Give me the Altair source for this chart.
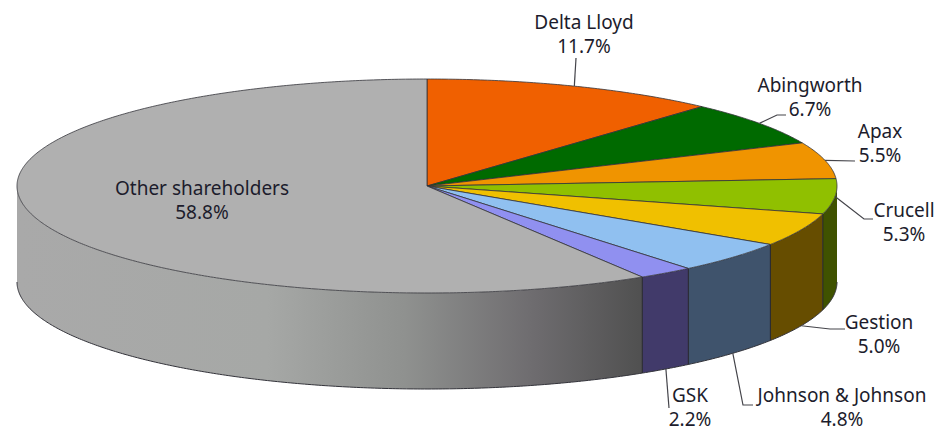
import math
import altair as alt
import pandas as pd

names = ["Delta Lloyd", "Abingworth", "Apax", "Crucell", "Gestion", "Johnson & Johnson", "GSK", "Other shareholders"]
shares = [11.7, 6.7, 5.5, 5.3, 5.0, 4.8, 2.2, 58.8]
top_colors = ["#f06000", "#006a00", "#f09400", "#90c000", "#f0c000", "#90c0f0", "#9090f0", "#b0b0b0"]
wall_colors = ["#7a3000", "#003500", "#784a00", "#3f5200", "#664d00", "#3f536c", "#413a6a", "#b0b0b0"]

# pie geometry, in the units of the two position scales
CX, CY, RX, RY, DEPTH = 427.0, 186.0, 410.0, 107.0, 96.0
# label anchors (x centre, first-line y) and leader elbows
label_xy = [(584, 23), (810, 86), (880, 132), (904, 211), (879, 323), (842, 396), (690, 396), (202, 189)]
elbows = [[(576, 58)], [(777, 115), (786, 115)], [(855, 161)], [(864, 219), (873, 219)],
          [(830, 329), (845, 329)], [(743, 405), (753, 405)], [(669, 408)], []]

X = alt.X("x:Q", axis=None, scale=alt.Scale(domain=[8, 936], range=[0, 928], nice=False, zero=False))
Y = alt.Y("y:Q", axis=None, scale=alt.Scale(domain=[431, 8], range=[423, 0], nice=False, zero=False))
Y2 = alt.Y2("y2:Q")


def rim(deg):
    a = math.radians(deg)
    return CX + RX * math.sin(a), CY - RY * math.cos(a)


def sweep(a0, a1, step=1.0):
    n = max(2, int(abs(a1 - a0) / step) + 1)
    return [a0 + (a1 - a0) * k / (n - 1) for k in range(n)]


bounds = [0.0]
for s in shares:
    bounds.append(bounds[-1] + s * 3.6)

layers = []
OUT = "#33333a"
# walls
for i in range(len(shares)):
    a0, a1 = max(bounds[i], 90.0), min(bounds[i + 1], 270.0)
    if a1 <= a0:
        continue
    rows = []
    for a in sweep(a0, a1, 0.5):
        px, py = rim(a)
        rows.append({"x": px, "y": py, "y2": py + DEPTH})
    df = pd.DataFrame(rows)
    if names[i].startswith("Other"):
        fill = alt.Gradient(gradient="linear", x1=0, x2=1, y1=0, y2=0, stops=[
            alt.GradientStop(offset=0.0, color="#a9a9a9"),
            alt.GradientStop(offset=0.40, color="#a6a8a6"),
            alt.GradientStop(offset=0.62, color="#8f918f"),
            alt.GradientStop(offset=0.82, color="#6f6d70"),
            alt.GradientStop(offset=1.0, color="#505050"),
        ])
    else:
        fill = wall_colors[i]
    layers.append(alt.Chart(df).mark_area(fill=fill, opacity=1, orient="vertical").encode(x=X, y=Y, y2=Y2))
    bottom = df.assign(y=df["y2"]).drop(columns="y2").reset_index().rename(columns={"index": "i"})
    layers.append(alt.Chart(bottom).mark_line(color=OUT, strokeWidth=1).encode(x=X, y=Y, order="i:Q"))
    if 90.0 < a0 < 270.0:
        px, py = rim(a0)
        layers.append(alt.Chart(pd.DataFrame([{"x": px, "y": py, "y2": py + DEPTH}]))
                      .mark_rule(color="#22222a", strokeWidth=1).encode(x=X, y=Y, y2=Y2))

# top slices
for i in range(len(shares)):
    pts = [(CX, CY)] + [rim(a) for a in sweep(bounds[i], bounds[i + 1], 0.5)] + [(CX, CY)]
    df = pd.DataFrame([{"i": k, "x": p[0], "y": p[1]} for k, p in enumerate(pts)])
    layers.append(alt.Chart(df).mark_line(fill=top_colors[i], stroke=OUT, strokeWidth=0.8)
                  .encode(x=X, y=Y, order="i:Q"))

# leaders
for i in range(len(shares)):
    if not elbows[i]:
        continue
    mid = (bounds[i] + bounds[i + 1]) / 2
    px, py = rim(mid)
    if mid > 100:
        py += DEPTH
    pts = [(px, py)] + elbows[i]
    df = pd.DataFrame([{"i": k, "x": p[0], "y": p[1]} for k, p in enumerate(pts)])
    layers.append(alt.Chart(df).mark_line(color="#44444a", strokeWidth=1.2).encode(x=X, y=Y, order="i:Q"))

# labels
rows = []
for n, s, (lx, ly) in zip(names, shares, label_xy):
    rows.append({"x": lx, "y": ly, "t": n})
    rows.append({"x": lx, "y": ly + 24, "t": f"{s:.1f}%"})
layers.append(alt.Chart(pd.DataFrame(rows)).mark_text(
    font="Noto Sans", fontSize=19, color="#1c1c2c", align="center", baseline="middle"
).encode(x=X, y=Y, text="t:N"))

chart = alt.layer(*layers).properties(
    width=928, height=423, padding=0, autosize=alt.AutoSizeParams(type="none"),
    background="white",
).configure_view(stroke=None)
chart.save("out.html", embed_options={"renderer": "svg", "actions": False})
